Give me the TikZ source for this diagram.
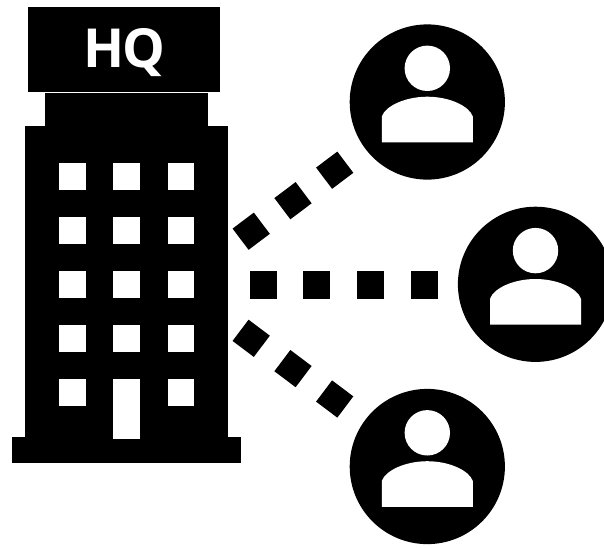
\documentclass[tikz,border=0pt]{standalone}
\usepackage{fontspec}
\setmainfont{Open Sans}
\tikzset{
  solidpart/.style={fill=black,draw=none},
  windowpane/.style={fill=white,draw=none},
  dotsquare/.style={fill=black,draw=none,inner sep=0pt,minimum size=#1},
  dotsquare/.default=26.6pt,
  userdisc/.style={circle,fill=black,draw=none,inner sep=0pt,minimum size=155.2pt},
  userhead/.style={circle,fill=white,draw=none,inner sep=0pt,minimum size=45.4pt},
  userbody/.pic={
    \fill[white] (-45.5,40.3) -- (-45.5,14.5)
      .. controls (-42,4) and (-22,-5.3) .. (0,-5.3)
      .. controls (22,-5.3) and (42,4) .. (45.5,14.5)
      -- (45.5,40.3) -- cycle;
  }
}
\begin{document}
\begin{tikzpicture}[x=1pt,y=-1pt]
\useasboundingbox (0,0) rectangle (604,547);
\clip (0,0) rectangle (604,547);
% building
\fill[solidpart] (28,7) rectangle (220,92);
\fill[solidpart] (45,93) rectangle (208.2,126.5);
\fill[solidpart] (25,126) rectangle (228.2,437.5);
\fill[solidpart] (12,437.3) rectangle (241.2,463.3);
\foreach \wy in {163,217,271,325,379}{
  \foreach \wx in {59,167.5}{
    \fill[windowpane] (\wx,\wy) rectangle ++(26.8,26.5);
  }
}
\foreach \wy in {163,217,271,325}{
  \fill[windowpane] (113,\wy) rectangle ++(26.8,26.5);
}
\fill[windowpane] (113,379) rectangle (139.8,439.3);
\node[text=white,font=\bfseries\fontsize{53.8}{53.8}\selectfont,anchor=base,inner sep=0pt] (hq) at (124.5,67) {H\kern-1.5pt Q};
% users
\foreach \nm/\cx/\cy in {usera/427.3/102,userb/535.5/284.3,userc/427.3/466.5}{
  \node[userdisc] (\nm) at (\cx,\cy) {};
  \node[userhead] (\nm head) at (\cx,\cy-33.7) {};
  \pic at (\cx,\cy) {userbody};
}
% dotted links
\foreach \nm/\dx/\dy in {a/251.2/231.2,b/293/200.7,c/334.7/170.2}{
  \node[dotsquare,rotate=37] (up\nm) at (\dx,\dy) {};
}
\foreach \nm/\dx in {a/263.5,b/316.5,c/370.5,d/424.5}{
  \node[dotsquare=27.5pt] (mid\nm) at (\dx,285) {};
}
\foreach \nm/\dx/\dy in {a/251.2/338.3,b/293/368.6,c/334.7/399}{
  \node[dotsquare,rotate=-37] (low\nm) at (\dx,\dy) {};
}
\end{tikzpicture}
\end{document}
